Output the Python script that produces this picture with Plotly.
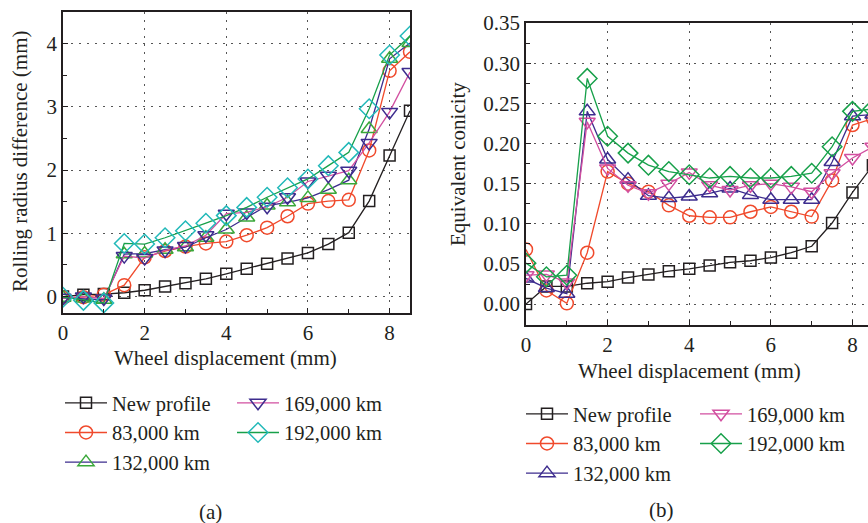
import plotly.graph_objects as go

# ---------------- data ----------------
x_disp = [0, 0.5, 1, 1.5, 2, 2.5, 3, 3.5, 4, 4.5, 5, 5.5, 6, 6.5, 7, 7.5, 8, 8.5]
series_names = ["New profile", "83,000 km", "132,000 km", "169,000 km", "192,000 km"]

# (a) rolling radius difference (mm)
rrd_new = [0.0, 0.03, 0.04, 0.06, 0.10, 0.16, 0.21, 0.28, 0.36, 0.44, 0.52, 0.60, 0.69, 0.83, 1.01, 1.51, 2.23, 2.94]
rrd_83 = [-0.02, -0.01, 0.03, 0.18, 0.62, 0.72, 0.79, 0.84, 0.87, 0.97, 1.09, 1.27, 1.47, 1.51, 1.53, 2.31, 3.57, 3.87]
rrd_132 = [-0.02, -0.03, -0.05, 0.67, 0.68, 0.74, 0.78, 0.93, 1.06, 1.25, 1.44, 1.49, 1.56, 1.69, 1.84, 2.65, 3.76, 4.01]
rrd_169 = [-0.02, 0.0, -0.03, 0.64, 0.61, 0.73, 0.80, 0.97, 1.31, 1.33, 1.42, 1.57, 1.82, 1.91, 1.99, 2.43, 2.92, 3.55]
rrd_192 = [-0.01, -0.06, -0.10, 0.84, 0.83, 0.93, 1.04, 1.16, 1.28, 1.41, 1.57, 1.72, 1.86, 2.07, 2.28, 2.97, 3.82, 4.12]

# (b) equivalent conicity
con_new = [0.0, 0.022, 0.022, 0.026, 0.028, 0.033, 0.037, 0.041, 0.044, 0.048, 0.052, 0.054, 0.058, 0.064, 0.072, 0.101, 0.139, 0.173]
con_83 = [0.068, 0.017, 0.001, 0.064, 0.165, 0.150, 0.140, 0.123, 0.110, 0.108, 0.108, 0.115, 0.121, 0.115, 0.109, 0.154, 0.223, 0.231]
con_132 = [0.032, 0.020, 0.013, 0.240, 0.180, 0.155, 0.135, 0.132, 0.134, 0.138, 0.144, 0.136, 0.130, 0.130, 0.130, 0.177, 0.234, 0.236]
con_169 = [0.036, 0.037, 0.027, 0.227, 0.169, 0.148, 0.138, 0.150, 0.164, 0.148, 0.142, 0.148, 0.150, 0.146, 0.140, 0.163, 0.182, 0.196]
con_192 = [0.051, 0.034, 0.036, 0.281, 0.209, 0.188, 0.173, 0.165, 0.161, 0.157, 0.159, 0.157, 0.157, 0.159, 0.163, 0.196, 0.240, 0.243]

# ---------------- styles ----------------
BLACK = "#231f20"
RED = "#f04a2c"
PURPLE = "#3d2c8e"
GREEN_T = "#3aa83a"
MAGENTA = "#d24fa0"
GREEN = "#17a04a"
CYAN = "#22b9b9"
FONT = "Liberation Serif"

W, H = 868, 523
def px(v):
    return v / W
def py(v):
    return 1 - v / H

fig = go.Figure()

style_a = [
    (rrd_new, BLACK, BLACK, "square-open", 11, "legend"),
    (rrd_83, RED, RED, "circle-open", 13, "legend"),
    (rrd_132, PURPLE, GREEN_T, "triangle-up-open", 14, "legend"),
    (rrd_169, MAGENTA, PURPLE, "triangle-down-open", 14, "legend3"),
    (rrd_192, GREEN, CYAN, "diamond-open", 15, "legend3"),
]
for name, (ys, lc, mc, sym, sz, lg) in zip(series_names, style_a):
    fig.add_trace(go.Scatter(
        x=x_disp, y=ys, name=name, mode="lines+markers",
        line=dict(color=lc, width=1.3),
        marker=dict(symbol=sym, size=sz, color=mc, line=dict(color=mc, width=1.5)),
        xaxis="x", yaxis="y", legend=lg,
    ))

style_b = [
    (con_new, BLACK, BLACK, "square-open", 11, "legend2"),
    (con_83, RED, RED, "circle-open", 13, "legend2"),
    (con_132, PURPLE, PURPLE, "triangle-up-open", 14, "legend2"),
    (con_169, MAGENTA, MAGENTA, "triangle-down-open", 14, "legend4"),
    (con_192, GREEN, GREEN, "diamond-open", 15, "legend4"),
]
for name, (ys, lc, mc, sym, sz, lg) in zip(series_names, style_b):
    fig.add_trace(go.Scatter(
        x=x_disp, y=ys, name=name, mode="lines+markers",
        line=dict(color=lc, width=1.3),
        marker=dict(symbol=sym, size=sz, color=mc, line=dict(color=mc, width=1.5)),
        xaxis="x2", yaxis="y2", legend=lg,
    ))

axis_common = dict(
    showline=True, linecolor=BLACK, linewidth=1.5, mirror=True,
    ticks="inside", ticklen=5, tickwidth=1.2, tickcolor=BLACK,
    showgrid=True, gridcolor="#555555", gridwidth=1.2, griddash="1.5px,6.5px",
    zeroline=False, automargin=False,
    tickfont=dict(family=FONT, size=21, color=BLACK),
)

fig.update_layout(
    width=W, height=H,
    margin=dict(l=0, r=0, t=0, b=0, pad=0, autoexpand=False),
    paper_bgcolor="white", plot_bgcolor="white",
    showlegend=True,
    xaxis=dict(domain=[px(63), px(410)], range=[0, 8.5], dtick=2, tick0=0,
               anchor="y", minor=dict(dtick=1, ticks="inside", ticklen=4, tickcolor=BLACK, showgrid=False),
               **axis_common),
    yaxis=dict(domain=[py(313), py(12)], range=[-0.26, 4.5], dtick=1, tick0=0,
               anchor="x", minor=dict(dtick=0.5, ticks="inside", ticklen=4, tickcolor=BLACK, showgrid=False),
               **axis_common),
    xaxis2=dict(domain=[px(526), 1.0], range=[0, 8.38], dtick=2, tick0=0,
                anchor="y2", minor=dict(dtick=1, ticks="inside", ticklen=4, tickcolor=BLACK, showgrid=False),
                **axis_common),
    yaxis2=dict(domain=[py(325), py(23)], range=[-0.026, 0.35], dtick=0.05, tick0=0,
                tickformat=".2f",
                anchor="x2", minor=dict(dtick=0.025, ticks="inside", ticklen=4, tickcolor=BLACK, showgrid=False),
                **axis_common),
)

leg_common = dict(orientation="v", xanchor="left", yanchor="top", bgcolor="rgba(0,0,0,0)",
                  font=dict(family=FONT, size=20.5, color=BLACK), itemwidth=42,
                  tracegroupgap=0, itemclick=False)
fig.update_layout(
    legend=dict(x=px(60), y=py(383), **leg_common),
    legend3=dict(x=px(232), y=py(383), **leg_common),
    legend2=dict(x=px(521), y=py(394), **leg_common),
    legend4=dict(x=px(695), y=py(394), **leg_common),
)

ann_font = dict(family=FONT, size=21, color=BLACK)
fig.update_layout(annotations=[
    dict(text="Wheel displacement (mm)", x=px(226), y=py(358), xref="paper", yref="paper",
         showarrow=False, font=ann_font, xanchor="center", yanchor="middle"),
    dict(text="Rolling radius difference (mm)", x=px(20), y=py(162), xref="paper", yref="paper",
         showarrow=False, font=ann_font, textangle=-90, xanchor="center", yanchor="middle"),
    dict(text="Wheel displacement (mm)", x=px(689), y=py(371), xref="paper", yref="paper",
         showarrow=False, font=ann_font, xanchor="center", yanchor="middle"),
    dict(text="Equivalent conicity", x=px(458), y=py(164), xref="paper", yref="paper",
         showarrow=False, font=ann_font, textangle=-90, xanchor="center", yanchor="middle"),
    dict(text="(a)", x=px(210), y=py(512), xref="paper", yref="paper",
         showarrow=False, font=ann_font, xanchor="center", yanchor="middle"),
    dict(text="(b)", x=px(661), y=py(510), xref="paper", yref="paper",
         showarrow=False, font=ann_font, xanchor="center", yanchor="middle"),
])

fig.write_html("out.html", config={"displayModeBar": False},
               post_script="document.body.style.margin='0';document.body.style.overflow='hidden';")
